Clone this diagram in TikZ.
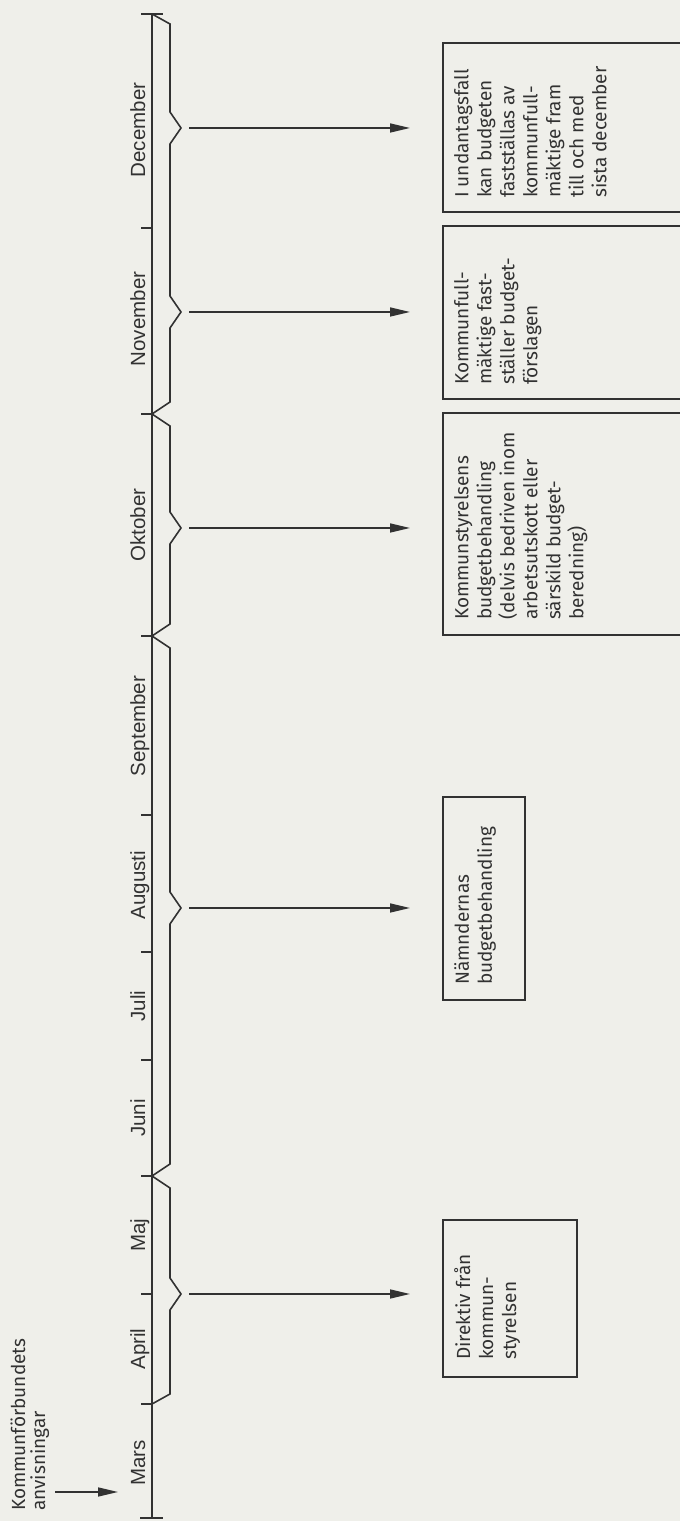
\documentclass[tikz,border=0pt]{standalone}
\usepackage{fontspec}
\setmainfont{Fira Sans}
\newfontfamily\boxfont{Fira Sans}
\newfontfamily\monthfont{Liberation Sans}
\usetikzlibrary{arrows.meta}
\definecolor{bg}{RGB}{239,239,234}
\definecolor{ink}{RGB}{50,50,50}
\tikzset{
  lineink/.style={draw=ink, line width=1.6pt},
  month/.style={rotate=90, anchor=base, inner sep=0pt, text=ink,
    font=\monthfont\fontsize{20.5}{23}\selectfont},
  boxtext/.style={rotate=90, anchor=north west, align=left, inner sep=0pt, text=ink,
    font=\boxfont\fontsize{19}{23}\selectfont},
  headtext/.style={rotate=90, anchor=base west, inner sep=0pt, text=ink,
    font=\boxfont\fontsize{19}{23}\selectfont},
  arr/.style={lineink, -{Triangle[length=20pt,width=9pt]}},
  frame/.style={lineink},
}
\begin{document}
\begin{tikzpicture}[x=1pt,y=1pt]
\useasboundingbox (0,0) rectangle (680,1521);
\fill[bg] (0,0) rectangle (680,1521);

% main time line
\coordinate (top) at (152,1507);
\coordinate (bot) at (152,3);
\draw[lineink] (top) -- (bot);
\draw[lineink] (141,1507) -- (163,1507);
\draw[lineink] (140,3) -- (163,3);
\foreach \y in {117,227,345,461,569,706,885,1107,1293}
  \draw[lineink] (141,\y) -- (152,\y);

% braces
\draw[lineink, line join=miter]
  (152,117) -- (170,127) -- (170,211) -- (181,227) -- (170,243) -- (170,333)
  -- (152,345) -- (170,357) -- (170,597) -- (181,613) -- (170,629) -- (170,873)
  -- (152,885) -- (170,897) -- (170,977) -- (181,993) -- (170,1009) -- (170,1095)
  -- (152,1107) -- (170,1119) -- (170,1193) -- (181,1209) -- (170,1225)
  -- (170,1377) -- (181,1393) -- (170,1409) -- (170,1497) -- (152,1507);

% month labels
\node[month] (mars) at (145,58) {Mars};
\node[month] (april) at (145,172) {April};
\node[month] (maj) at (145,286) {Maj};
\node[month] (juni) at (145,403) {Juni};
\node[month] (juli) at (145,515) {Juli};
\node[month] (aug) at (145,636) {Augusti};
\node[month] (sep) at (145,795) {September};
\node[month] (okt) at (145,996) {Oktober};
\node[month] (nov) at (145,1202) {November};
\node[month] (dec) at (145,1391) {December};

% arrows
\foreach \y/\n in {227/a,613/b,993/c,1209/d,1393/e}{
  \coordinate (s\n) at (189,\y);
  \coordinate (t\n) at (410,\y);
  \draw[arr] (s\n) -- (t\n);
}

% Kommunförbundets anvisningar
\node[headtext] (k1) at (25,10) {Kommunförbundets};
\node[headtext] (k2) at (45,10) {anvisningar};
\coordinate (ks) at (55,29);
\coordinate (kt) at (118,29);
\draw[arr] (ks) -- (kt);

% boxes
\draw[frame] (680,1478) -- (443,1478) -- (443,1309) -- (680,1309);
\draw[frame] (680,1295) -- (443,1295) -- (443,1122) -- (680,1122);
\draw[frame] (680,1108) -- (443,1108) -- (443,886) -- (680,886);
\draw[frame] (443,521) rectangle (525,724);
\draw[frame] (443,144) rectangle (577,301);

\node[boxtext] (bdec) at (454,1323) {I undantagsfall\\kan budgeten\\fastställas av\\kommunfull-\\mäktige fram\\till och med\\sista december};
\node[boxtext] (bnov) at (454,1136) {Kommunfull-\\mäktige fast-\\ställer budget-\\förslagen};
\node[boxtext] (bokt) at (454,901) {Kommunstyrelsens\\budgetbehandling\\(delvis bedriven inom\\arbetsutskott eller\\särskild budget-\\beredning)};
\node[boxtext] (baug) at (454,536) {Nämndernas\\budgetbehandling};
\node[boxtext] (bapr) at (454,161) {Direktiv från\\kommun-\\styrelsen};
\end{tikzpicture}
\end{document}
